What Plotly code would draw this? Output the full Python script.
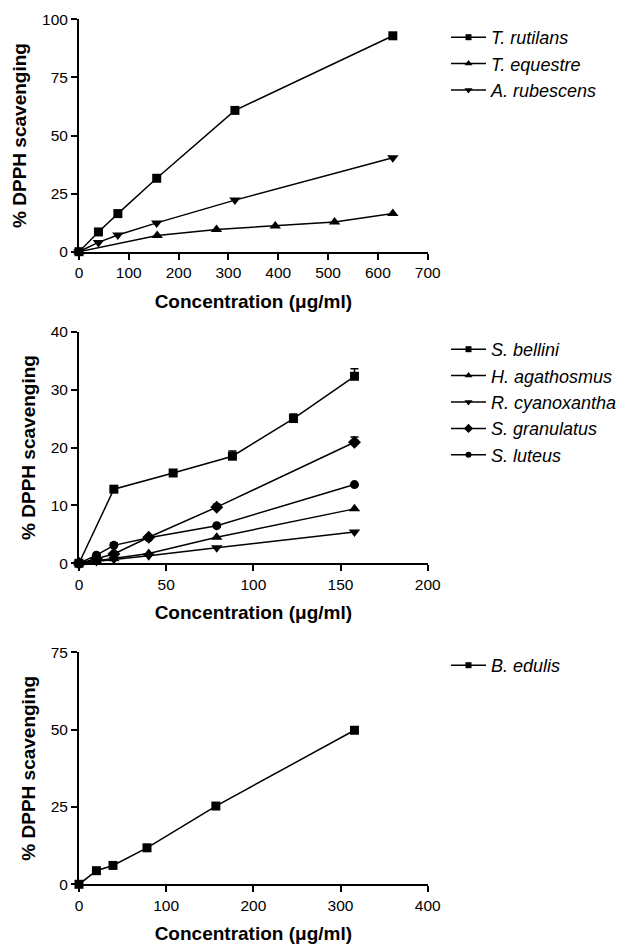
import plotly.graph_objects as go

FONT = "Liberation Sans, Arial, sans-serif"

# Panel 1
p1_names = ["T. rutilans", "T. equestre", "A. rubescens"]
p1_x = [[0, 39, 78, 156, 313, 630],
        [0, 157, 276, 394, 513, 630],
        [0, 39, 78, 156, 313, 630]]
p1_y = [[0, 8.5, 16.4, 31.6, 60.8, 92.9],
        [0, 7.0, 9.6, 11.1, 12.8, 16.4],
        [0, 4.0, 7.2, 12.4, 22.2, 40.4]]
p1_sym = ["square", "triangle-up", "triangle-down"]

# Panel 2
p2_names = ["S. bellini", "H. agathosmus", "R. cyanoxantha", "S. granulatus", "S. luteus"]
p2_x = [[0, 20, 54, 88, 123, 158],
        [0, 10, 20, 40, 79, 158],
        [0, 10, 20, 40, 79, 158],
        [0, 10, 20, 40, 79, 158],
        [0, 10, 20, 40, 79, 158]]
p2_y = [[0, 12.8, 15.6, 18.5, 25.0, 32.3],
        [0, 0.4, 0.8, 1.7, 4.5, 9.4],
        [0, 0.3, 0.7, 1.3, 2.7, 5.4],
        [0, 0.8, 1.6, 4.5, 9.7, 20.9],
        [0, 1.4, 3.1, 4.4, 6.5, 13.6]]
p2_err = [[0, 0.2, 0.2, 0.9, 0.8, 1.3],
          [0, 0, 0, 0, 0, 0],
          [0, 0, 0, 0, 0, 0],
          [0, 0, 0, 0, 0.5, 0.9],
          [0, 0, 0.4, 0, 0, 0]]
p2_sym = ["square", "triangle-up", "triangle-down", "diamond", "circle"]

# Panel 3
p3_names = ["B. edulis"]
p3_x = [[0, 20, 39, 78, 157, 316]]
p3_y = [[0, 4.4, 6.1, 11.8, 25.3, 49.8]]
p3_sym = ["square"]

x_title = "Concentration (μg/ml)"
y_title = "% DPPH scavenging"

W, H = 629, 944
x_dom = [79 / W, 427.7 / W]
y_doms = [[1 - 251.7 / H, 1 - 19.3 / H],
          [1 - 563.3 / H, 1 - 331.7 / H],
          [1 - 884.3 / H, 1 - 652.3 / H]]
x_ranges = [[0, 700], [0, 200], [0, 400]]
x_dticks = [100, 50, 100]
y_ranges = [[0, 100], [0, 40], [0, 75]]
y_dticks = [25, 10, 25]
legend_tops = [19, 331, 647]

fig = go.Figure()

msize = {"square": 9, "triangle-up": 10, "triangle-down": 10, "diamond": 10, "circle": 9}
lsize = {"square": 6, "triangle-up": 7, "triangle-down": 7, "diamond": 7, "circle": 6}

def add_panel(idx, names, xs, ys, syms, errs=None):
    ax = "" if idx == 0 else str(idx + 1)
    for i, n in enumerate(names):
        kw = {}
        if errs is not None and any(errs[i]):
            kw["error_y"] = dict(type="data", array=errs[i], arrayminus=[0] * len(errs[i]),
                                 symmetric=False, color="black", thickness=1.5, width=4)
        fig.add_trace(go.Scatter(
            x=xs[i], y=ys[i], name=n, mode="lines+markers", showlegend=False,
            line=dict(color="black", width=1.5),
            marker=dict(symbol=syms[i], size=msize[syms[i]], color="black"),
            xaxis="x" + ax, yaxis="y" + ax, cliponaxis=False, **kw))
        # legend entry (smaller symbol, as in the original legend)
        fig.add_trace(go.Scatter(
            x=[None], y=[None], name="<i>" + n + "</i>", mode="lines+markers",
            line=dict(color="black", width=1.5),
            marker=dict(symbol=syms[i], size=lsize[syms[i]], color="black"),
            xaxis="x" + ax, yaxis="y" + ax, legend="legend" + ax, hoverinfo="skip"))

add_panel(0, p1_names, p1_x, p1_y, p1_sym)
add_panel(1, p2_names, p2_x, p2_y, p2_sym, p2_err)
add_panel(2, p3_names, p3_x, p3_y, p3_sym)

layout = dict(width=W, height=H, margin=dict(l=0, r=0, t=0, b=0),
              paper_bgcolor="white", plot_bgcolor="white",
              font=dict(family=FONT, color="black"), showlegend=True)

for i in range(3):
    ax = "" if i == 0 else str(i + 1)
    layout["xaxis" + ax] = dict(
        domain=x_dom, anchor="y" + ax, range=x_ranges[i], dtick=x_dticks[i], tick0=0,
        showline=True, linecolor="black", linewidth=2, ticks="outside", ticklen=6,
        tickwidth=2, tickcolor="black", showgrid=False, zeroline=False,
        tickfont=dict(size=15.5, family=FONT), automargin=False,
        title=dict(text="<b>" + x_title + "</b>", font=dict(size=19, family=FONT), standoff=14))
    layout["yaxis" + ax] = dict(
        domain=y_doms[i], anchor="x" + ax, range=y_ranges[i], dtick=y_dticks[i], tick0=0,
        showline=True, linecolor="black", linewidth=2, ticks="outside", ticklen=6,
        tickwidth=2, tickcolor="black", showgrid=False, zeroline=False,
        tickfont=dict(size=15.5, family=FONT), automargin=False,
        title=dict(text="<b>" + y_title + "</b>", font=dict(size=19, family=FONT), standoff=10))
    layout["legend" + ax] = dict(
        x=446 / W, xanchor="left", y=1 - legend_tops[i] / H, yanchor="top",
        font=dict(size=18, family=FONT), bgcolor="rgba(0,0,0,0)", borderwidth=0,
        itemwidth=35, tracegroupgap=0)

fig.update_layout(**layout)

fig.write_html("out.html")
